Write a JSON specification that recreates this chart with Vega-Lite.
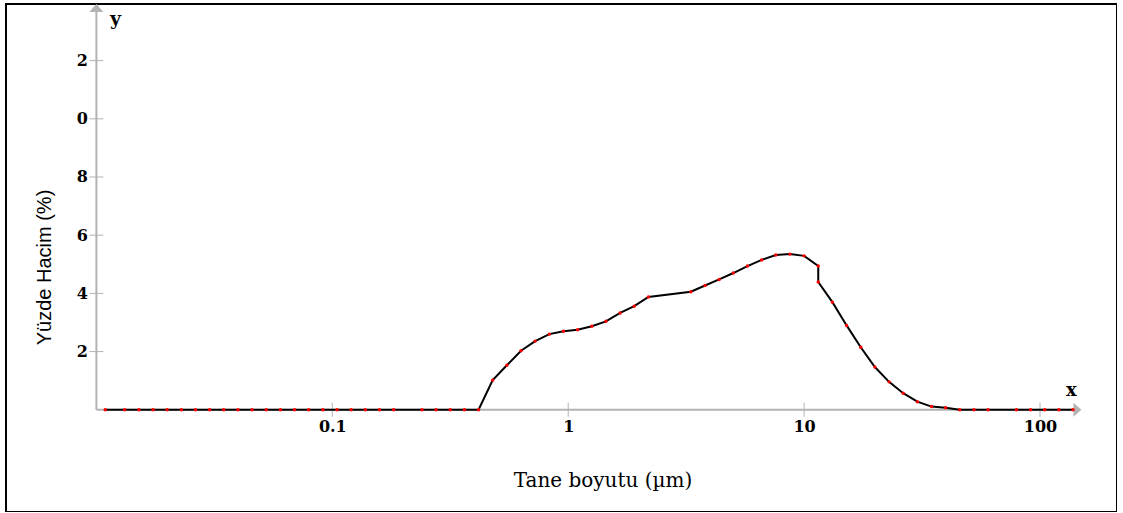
{
  "$schema": "https://vega.github.io/schema/vega-lite/v6.json",
  "width": 1111,
  "height": 508,
  "autosize": {"type": "none"},
  "padding": {"left": 6, "top": 4, "right": 0, "bottom": 0},
  "background": "white",
  "config": {
    "view": {"stroke": "#000000", "strokeWidth": 2},
    "axis": {
      "domain": false,
      "ticks": false,
      "grid": false,
      "labelFont": "DejaVu Serif",
      "labelFontWeight": "bold",
      "labelFontSize": 16,
      "labelColor": "#000000",
      "titleColor": "#000000"
    }
  },
  "datasets": {
    "psd": [
      {"i": 0, "d": 0.0109, "v": 0},
      {"i": 1, "d": 0.01318, "v": 0},
      {"i": 2, "d": 0.01514, "v": 0},
      {"i": 3, "d": 0.01738, "v": 0},
      {"i": 4, "d": 0.01995, "v": 0},
      {"i": 5, "d": 0.02291, "v": 0},
      {"i": 6, "d": 0.0263, "v": 0},
      {"i": 7, "d": 0.0302, "v": 0},
      {"i": 8, "d": 0.03467, "v": 0},
      {"i": 9, "d": 0.03981, "v": 0},
      {"i": 10, "d": 0.04571, "v": 0},
      {"i": 11, "d": 0.05248, "v": 0},
      {"i": 12, "d": 0.06026, "v": 0},
      {"i": 13, "d": 0.06918, "v": 0},
      {"i": 14, "d": 0.07943, "v": 0},
      {"i": 15, "d": 0.0912, "v": 0},
      {"i": 16, "d": 0.1047, "v": 0},
      {"i": 17, "d": 0.1202, "v": 0},
      {"i": 18, "d": 0.138, "v": 0},
      {"i": 19, "d": 0.1585, "v": 0},
      {"i": 20, "d": 0.182, "v": 0},
      {"i": 21, "d": 0.2399, "v": 0},
      {"i": 22, "d": 0.2754, "v": 0},
      {"i": 23, "d": 0.3162, "v": 0},
      {"i": 24, "d": 0.3631, "v": 0},
      {"i": 25, "d": 0.4169, "v": 0},
      {"i": 26, "d": 0.4786, "v": 1.02},
      {"i": 27, "d": 0.5495, "v": 1.53},
      {"i": 28, "d": 0.631, "v": 2.03},
      {"i": 29, "d": 0.7244, "v": 2.36},
      {"i": 30, "d": 0.8318, "v": 2.6},
      {"i": 31, "d": 0.955, "v": 2.7},
      {"i": 32, "d": 1.096, "v": 2.75},
      {"i": 33, "d": 1.259, "v": 2.87},
      {"i": 34, "d": 1.445, "v": 3.04},
      {"i": 35, "d": 1.66, "v": 3.33},
      {"i": 36, "d": 1.905, "v": 3.56},
      {"i": 37, "d": 2.188, "v": 3.88},
      {"i": 38, "d": 3.311, "v": 4.06},
      {"i": 39, "d": 3.802, "v": 4.27},
      {"i": 40, "d": 4.365, "v": 4.48},
      {"i": 41, "d": 5.012, "v": 4.7},
      {"i": 42, "d": 5.754, "v": 4.94},
      {"i": 43, "d": 6.607, "v": 5.15},
      {"i": 44, "d": 7.586, "v": 5.32},
      {"i": 45, "d": 8.71, "v": 5.35},
      {"i": 46, "d": 10.0, "v": 5.29},
      {"i": 47, "d": 11.48, "v": 4.94},
      {"i": 48, "d": 11.48, "v": 4.39},
      {"i": 49, "d": 13.18, "v": 3.7},
      {"i": 50, "d": 15.14, "v": 2.9},
      {"i": 51, "d": 17.38, "v": 2.15},
      {"i": 52, "d": 19.95, "v": 1.47},
      {"i": 53, "d": 22.91, "v": 0.96},
      {"i": 54, "d": 26.3, "v": 0.57},
      {"i": 55, "d": 30.2, "v": 0.28},
      {"i": 56, "d": 34.67, "v": 0.11},
      {"i": 57, "d": 39.81, "v": 0.07},
      {"i": 58, "d": 45.71, "v": 0},
      {"i": 59, "d": 52.48, "v": 0},
      {"i": 60, "d": 60.26, "v": 0},
      {"i": 61, "d": 79.43, "v": 0},
      {"i": 62, "d": 91.2, "v": 0},
      {"i": 63, "d": 104.7, "v": 0},
      {"i": 64, "d": 120.2, "v": 0},
      {"i": 65, "d": 138.0, "v": 0}
    ],
    "yticks": [{"v": 2}, {"v": 4}, {"v": 6}, {"v": 8}, {"v": 10}, {"v": 12}],
    "xticks": [{"d": 0.1}, {"d": 1}, {"d": 10}, {"d": 100}],
    "one": [{}]
  },
  "layer": [
    {
      "data": {"name": "one"},
      "mark": {"type": "rule", "color": "#b3b3b3", "strokeWidth": 2},
      "encoding": {
        "x": {"datum": 0.01, "type": "quantitative"},
        "y": {"datum": 0, "type": "quantitative"},
        "y2": {"datum": 13.67}
      }
    },
    {
      "data": {"name": "one"},
      "mark": {"type": "rule", "color": "#b3b3b3", "strokeWidth": 2},
      "encoding": {
        "x": {"datum": 0.01, "type": "quantitative"},
        "x2": {"datum": 140.1},
        "y": {"datum": 0, "type": "quantitative"}
      }
    },
    {
      "data": {"name": "one"},
      "mark": {"type": "point", "shape": "M0,-0.57L1,0.57L-1,0.57Z", "size": 196, "filled": true, "color": "#b3b3b3", "opacity": 1},
      "encoding": {
        "x": {"datum": 0.01, "type": "quantitative"},
        "y": {"datum": 13.81, "type": "quantitative"}
      }
    },
    {
      "data": {"name": "one"},
      "mark": {"type": "point", "shape": "M0.57,0L-0.57,-1L-0.57,1Z", "size": 196, "filled": true, "color": "#b3b3b3", "opacity": 1},
      "encoding": {
        "x": {"datum": 144.1, "type": "quantitative"},
        "y": {"datum": 0, "type": "quantitative"}
      }
    },
    {
      "data": {"name": "yticks"},
      "mark": {"type": "tick", "orient": "horizontal", "size": 14, "thickness": 1, "color": "#b3b3b3", "opacity": 1},
      "encoding": {
        "x": {"datum": 0.01, "type": "quantitative"},
        "y": {"field": "v", "type": "quantitative"}
      }
    },
    {
      "data": {"name": "xticks"},
      "mark": {"type": "tick", "orient": "vertical", "size": 14, "thickness": 1, "color": "#b3b3b3", "opacity": 1},
      "encoding": {
        "x": {"field": "d", "type": "quantitative"},
        "y": {"datum": 0, "type": "quantitative"}
      }
    },
    {
      "data": {"name": "psd"},
      "mark": {"type": "line", "color": "#000000", "strokeWidth": 2},
      "encoding": {
        "x": {
          "field": "d",
          "type": "quantitative",
          "scale": {"type": "log", "domain": [0.004138, 212], "nice": false},
          "axis": {
            "orient": "bottom",
            "offset": -102.2,
            "values": [0.1, 1, 10, 100],
            "format": "~g",
            "labelPadding": 9,
            "title": "Tane boyutu (µm)",
            "titleFont": "DejaVu Serif",
            "titleFontWeight": "normal",
            "titleFontSize": 20,
            "titleBaseline": "alphabetic",
            "titleAlign": "center",
            "titleX": 596.5,
            "titleY": 77
          }
        },
        "y": {
          "field": "v",
          "type": "quantitative",
          "scale": {"domain": [-3.512, 13.945], "nice": false, "zero": false},
          "axis": {
            "orient": "left",
            "offset": -90.4,
            "values": [2, 4, 6, 8, 10, 12],
            "labelExpr": "datum.value >= 10 ? substring(datum.label, 1) : datum.label",
            "labelPadding": 9,
            "title": "Yüzde Hacim (%)",
            "titleFont": "Liberation Sans",
            "titleFontWeight": "normal",
            "titleFontSize": 20,
            "titleAngle": -90,
            "titleBaseline": "alphabetic",
            "titleAlign": "center",
            "titleX": -46.4,
            "titleY": 263
          }
        },
        "order": {"field": "i", "type": "quantitative"}
      }
    },
    {
      "data": {"name": "psd"},
      "mark": {"type": "point", "shape": "circle", "filled": true, "size": 12, "color": "#ff0000", "opacity": 1},
      "encoding": {
        "x": {"field": "d", "type": "quantitative"},
        "y": {"field": "v", "type": "quantitative"}
      }
    },
    {
      "data": {"name": "one"},
      "mark": {"type": "text", "text": "y", "font": "DejaVu Serif", "fontWeight": "bold", "fontSize": 19, "align": "center", "baseline": "alphabetic", "color": "#000000"},
      "encoding": {
        "x": {"datum": 0.01205, "type": "quantitative"},
        "y": {"datum": 13.21, "type": "quantitative"}
      }
    },
    {
      "data": {"name": "one"},
      "mark": {"type": "text", "text": "x", "font": "DejaVu Serif", "fontWeight": "bold", "fontSize": 18, "align": "center", "baseline": "alphabetic", "color": "#000000"},
      "encoding": {
        "x": {"datum": 135.7, "type": "quantitative"},
        "y": {"datum": 0.474, "type": "quantitative"}
      }
    }
  ]
}
